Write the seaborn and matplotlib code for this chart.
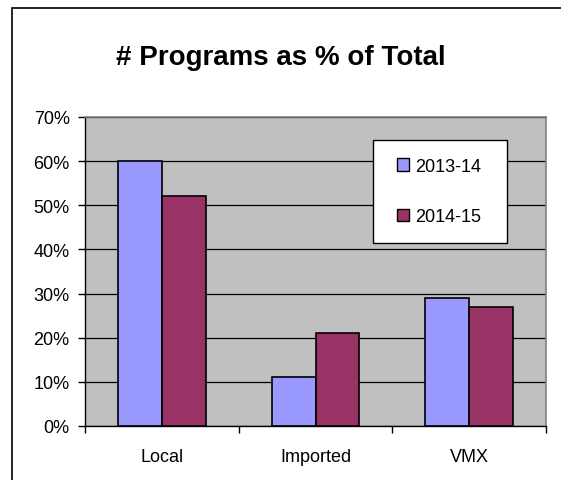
import pandas as pd
import matplotlib
matplotlib.use('Agg')
import matplotlib.pyplot as plt
from matplotlib.patches import Rectangle
from matplotlib.legend_handler import HandlerPatch
from matplotlib.ticker import PercentFormatter, FixedLocator
import seaborn as sns

# data
categories = ['Local', 'Imported', 'VMX']
share_2013_14 = [60, 11, 29]
share_2014_15 = [52, 21, 27]
series_names = ['2013-14', '2014-15']

df = pd.DataFrame({
    'Category': categories * 2,
    'Share': share_2013_14 + share_2014_15,
    'Year': [series_names[0]] * 3 + [series_names[1]] * 3,
})

sns.set_style('white')
plt.rcParams['font.family'] = ['Liberation Sans', 'DejaVu Sans']
plt.rcParams['text.color'] = 'black'
plt.rcParams['xtick.color'] = 'black'
plt.rcParams['ytick.color'] = 'black'

fig = plt.figure(figsize=(5.61, 4.81), dpi=100)
ax = fig.add_axes([85 / 561, 1 - 427 / 481, 461 / 561, 309 / 481])
ax.set_facecolor('#C0C0C0')

sns.barplot(data=df, x='Category', y='Share', hue='Year', order=categories,
            palette=['#9999FF', '#993366'], saturation=1, edgecolor='black',
            linewidth=1.2, width=0.57, gap=0, ax=ax, legend=True)

ax.set_xlim(-0.5, 2.5)
ax.set_ylim(0, 70)
ax.set_yticks(range(0, 71, 10))
ax.yaxis.set_major_formatter(PercentFormatter(decimals=0))
ax.yaxis.grid(True, color='black', linewidth=0.9)
ax.set_axisbelow(True)
ax.set_xlabel('')
ax.set_ylabel('')

# category boundaries as tick marks
ax.xaxis.set_minor_locator(FixedLocator([-0.5, 0.5, 1.5, 2.5]))
ax.tick_params(axis='x', which='major', length=0, pad=16, labelsize=13)
ax.tick_params(axis='x', which='minor', length=5, width=1, color='black', direction='out', bottom=True)
ax.tick_params(axis='y', length=5, width=1, color='black', direction='out', left=True, labelsize=13, pad=6)

for side in ['left', 'bottom']:
    ax.spines[side].set_color('black')
    ax.spines[side].set_linewidth(1)
for side in ['top', 'right']:
    ax.spines[side].set_color('#808080')
    ax.spines[side].set_linewidth(1.2)
    ax.spines[side].set_visible(True)


# small square sitting at the right end of the handle box
def square(legend, orig_handle, xdescent, ydescent, width, height, fontsize):
    s = 0.7 * fontsize
    return Rectangle((width - xdescent - s, -ydescent + (height - s) / 2), s, s)


handles, labels = ax.get_legend_handles_labels()
leg = ax.legend(handles, labels, loc='upper left', bbox_to_anchor=(0.625, 0.926, 0.29, 0.0),
                mode='expand', borderaxespad=0, frameon=True, fancybox=False,
                edgecolor='black', facecolor='white', framealpha=1,
                fontsize=13, handlelength=1.0, handleheight=0.7,
                handletextpad=0.3, labelspacing=1.85, borderpad=1.0,
                handler_map={h: HandlerPatch(patch_func=square) for h in handles})
leg.get_frame().set_linewidth(1)
for h in leg.legend_handles:
    h.set_edgecolor('black')
    h.set_linewidth(1)

fig.text(0.5, 1 - 58 / 481, '# Programs as % of Total', ha='center', va='center',
         fontsize=20, fontweight='bold')

# outer chart frame (cropped on the right and bottom)
fig.patches.append(Rectangle((12 / 561, -0.1), 1.2, 1 - 9 / 481 + 0.1,
                             transform=fig.transFigure, fill=False,
                             edgecolor='black', linewidth=1.2))

fig.savefig('out.png', dpi=100)
